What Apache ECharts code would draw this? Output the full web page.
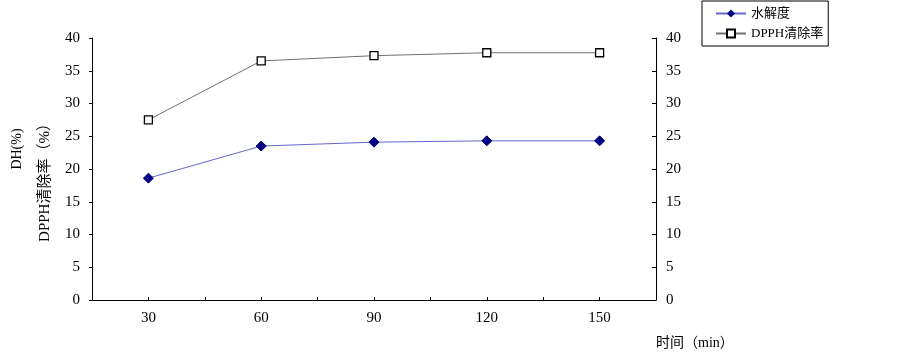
<!DOCTYPE html>
<html>
<head>
<meta charset="utf-8">
<script src="https://cdn.jsdelivr.net/npm/echarts@6/dist/echarts.min.js"></script>
<style>html,body{margin:0;padding:0;background:#fff;}#c{width:903px;height:354px;}</style>
</head>
<body>
<div id="c"></div>
<script>
var times = [30, 60, 90, 120, 150];
var dhValues = [18.6, 23.5, 24.1, 24.3, 24.3];
var dpphValues = [27.5, 36.5, 37.3, 37.75, 37.75];
var seriesNames = ['水解度', 'DPPH清除率'];
var yTitleDH = 'DH(%)';
var yTitleDPPH = 'DPPH清除率（%）';
var xTitle = '时间（min）';

var FONT = "'Liberation Serif', 'Noto Sans CJK SC', serif";
var chart = echarts.init(document.getElementById('c'));
function pairs(vals){ return times.map(function(t,i){ return [t, vals[i]]; }); }
var yAxisBase = {
  type: 'value', min: 0, max: 40, interval: 5,
  axisLine: {show: true, lineStyle: {color: '#000', width: 1}},
  splitLine: {show: false},
  axisLabel: {color: '#000', fontFamily: FONT, fontSize: 15}
};
chart.setOption({
  animation: false,
  backgroundColor: '#fff',
  grid: {left: 92, right: 247, top: 38, bottom: 54},
  legend: {
    orient: 'vertical', left: 702, top: 1,
    data: seriesNames,
    borderColor: '#000', borderWidth: 1, padding: [6, 5, 6, 13],
    itemGap: 7, itemWidth: 30, itemHeight: 10,
    textStyle: {fontFamily: FONT, fontSize: 13, color: '#000'}
  },
  xAxis: {
    type: 'value', min: 15, max: 165, interval: 15,
    axisLine: {show: true, onZero: false, lineStyle: {color: '#000'}},
    axisTick: {show: true, inside: true, length: 3, lineStyle: {color: '#000'}},
    splitLine: {show: false},
    axisLabel: {
      color: '#000', fontFamily: FONT, fontSize: 15, margin: 11,
      formatter: function(v){ return (v % 30 === 0) ? String(v) : ''; },
      showMinLabel: false, showMaxLabel: false
    }
  },
  yAxis: [
    Object.assign({}, yAxisBase, {position: 'left', axisLabel: Object.assign({}, yAxisBase.axisLabel, {margin: 12}), axisTick: {show: true, inside: false, length: 3, lineStyle: {color: '#000'}}}),
    Object.assign({}, yAxisBase, {position: 'right', axisLabel: Object.assign({}, yAxisBase.axisLabel, {margin: 10}), axisTick: {show: true, inside: true, length: 4, lineStyle: {color: '#000'}}})
  ],
  series: [
    {
      name: seriesNames[0], type: 'line', yAxisIndex: 0,
      data: pairs(dhValues),
      symbol: 'diamond', symbolSize: 10,
      itemStyle: {color: '#000080', borderColor: '#000080'},
      lineStyle: {color: '#6666cc', width: 1}
    },
    {
      name: seriesNames[1], type: 'line', yAxisIndex: 0,
      data: pairs(dpphValues),
      symbol: 'rect', symbolSize: 8,
      itemStyle: {color: '#fff', borderColor: '#000', borderWidth: 1.3},
      lineStyle: {color: '#707070', width: 1}
    }
  ],
  graphic: [
    {type: 'text', x: 17, y: 149, rotation: Math.PI/2, style: {text: yTitleDH, font: "14px " + FONT, fill: '#000', align: 'center', verticalAlign: 'middle'}},
    {type: 'text', x: 45, y: 179, rotation: Math.PI/2, style: {text: yTitleDPPH, font: "15px " + FONT, fill: '#000', align: 'center', verticalAlign: 'middle'}},
    {type: 'text', x: 656, y: 343, style: {text: xTitle, font: "14px " + FONT, fill: '#000', align: 'left', verticalAlign: 'middle'}}
  ]
});
</script>
</body>
</html>
